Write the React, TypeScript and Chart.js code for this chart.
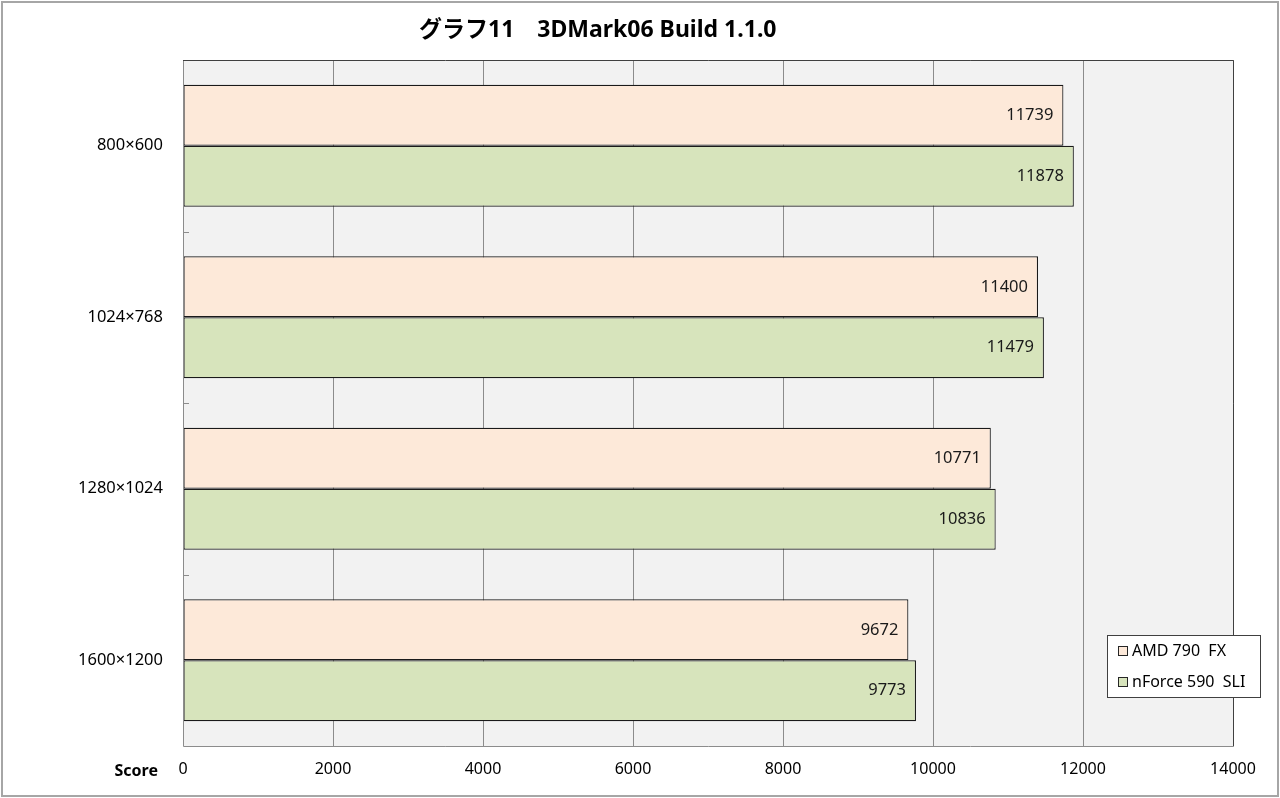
import { useEffect, useRef } from "react";
import { Chart, registerables } from "chart.js";
Chart.register(...registerables);

const categories = ["800×600", "1024×768", "1280×1024", "1600×1200"];
const amdValues = [11739, 11400, 10771, 9672];
const nforceValues = [11878, 11479, 10836, 9773];
const seriesNames = ["AMD 790  FX", "nForce 590  SLI"];
const seriesColors = ["#fde9d9", "#d7e4bc"];
const xMin = 0;
const xMax = 14000;
const xStep = 2000;
const titleText = "グラフ11　3DMark06 Build 1.1.0";
const axisTitle = "Score";

const FONT = "'Noto Sans', 'Noto Sans CJK JP', sans-serif";

const decorPlugin = {
  id: "decor",
  beforeDraw(chart: any) {
    const { ctx, chartArea: a, width, height } = chart;
    ctx.save();
    ctx.fillStyle = "#ffffff";
    ctx.fillRect(0, 0, width, height);
    ctx.strokeStyle = "#a6a6a6";
    ctx.lineWidth = 2;
    ctx.strokeRect(2, 2, width - 4, height - 4);
    ctx.fillStyle = "#f2f2f2";
    ctx.fillRect(a.left, a.top, a.right - a.left, a.bottom - a.top);
    ctx.restore();
  },
  afterDatasetsDraw(chart: any) {
    const { ctx } = chart;
    ctx.save();
    ctx.font = `16.5px ${FONT}`;
    ctx.fillStyle = "#1a1a1a";
    ctx.textAlign = "right";
    ctx.textBaseline = "middle";
    chart.data.datasets.forEach((ds: any, i: number) => {
      const meta = chart.getDatasetMeta(i);
      meta.data.forEach((el: any, j: number) => {
        ctx.fillText(String(ds.data[j]), el.x - 10, el.y);
      });
    });
    ctx.restore();
  },
  afterDraw(chart: any) {
    const { ctx, chartArea: a, width } = chart;
    ctx.save();
    // plot border
    ctx.lineWidth = 1;
    ctx.strokeStyle = "#8c8c8c";
    ctx.beginPath();
    ctx.moveTo(a.left + 0.5, a.top);
    ctx.lineTo(a.left + 0.5, a.bottom + 0.5);
    ctx.lineTo(a.right, a.bottom + 0.5);
    ctx.stroke();
    ctx.strokeStyle = "#404040";
    ctx.beginPath();
    ctx.moveTo(a.left, a.top + 0.5);
    ctx.lineTo(a.right + 0.5, a.top + 0.5);
    ctx.lineTo(a.right + 0.5, a.bottom + 0.5);
    ctx.stroke();
    // category boundary ticks
    const yScale = chart.scales.y;
    const n = chart.data.labels.length;
    const band = (a.bottom - a.top) / n;
    ctx.strokeStyle = "#8c8c8c";
    for (let i = 1; i < n; i++) {
      const y = Math.round(yScale.top + band * i) + 0.5;
      ctx.beginPath();
      ctx.moveTo(a.left, y);
      ctx.lineTo(a.left + 6, y);
      ctx.stroke();
    }
    // title
    ctx.fillStyle = "#000000";
    ctx.font = `bold 23px ${FONT}`;
    ctx.textAlign = "center";
    ctx.textBaseline = "middle";
    ctx.fillText(titleText, width * 0.467, 30);
    // axis title
    ctx.font = `bold 16px ${FONT}`;
    ctx.textAlign = "right";
    ctx.fillText(axisTitle, 158, 771);
    // legend
    const lx = 1107, ly = 635, lw = 153, lh = 62;
    ctx.fillStyle = "#ffffff";
    ctx.fillRect(lx, ly, lw, lh);
    ctx.strokeStyle = "#404040";
    ctx.strokeRect(lx + 0.5, ly + 0.5, lw, lh);
    ctx.font = `16px ${FONT}`;
    ctx.textAlign = "left";
    chart.data.datasets.forEach((ds: any, i: number) => {
      const cy = ly + 16 + i * 31;
      ctx.fillStyle = ds.backgroundColor;
      ctx.fillRect(lx + 11, cy - 5, 10, 10);
      ctx.strokeStyle = "#262626";
      ctx.strokeRect(lx + 11.5, cy - 4.5, 9, 9);
      ctx.fillStyle = "#000000";
      ctx.fillText(ds.label, lx + 25, cy);
    });
    ctx.restore();
  },
};

export default function App() {
  const ref = useRef<HTMLCanvasElement>(null);
  useEffect(() => {
    if (!ref.current) return;
    const chart = new Chart(ref.current, {
      type: "bar",
      data: {
        labels: categories,
        datasets: [
          {
            label: seriesNames[0],
            data: amdValues,
            backgroundColor: seriesColors[0],
            borderColor: "#1a1a1a",
            borderWidth: 1.2,
            borderSkipped: false,
          },
          {
            label: seriesNames[1],
            data: nforceValues,
            backgroundColor: seriesColors[1],
            borderColor: "#1a1a1a",
            borderWidth: 1.2,
            borderSkipped: false,
          },
        ],
      },
      options: {
        indexAxis: "y",
        responsive: false,
        animation: false,
        devicePixelRatio: 1,
        layout: { padding: { left: 0, right: 47, top: 60, bottom: 0 } },
        datasets: { bar: { categoryPercentage: 0.71, barPercentage: 1 } },
        plugins: { legend: { display: false }, title: { display: false }, tooltip: { enabled: false } },
        scales: {
          x: {
            min: xMin,
            max: xMax,
            ticks: {
              stepSize: xStep,
              color: "#000000",
              font: { family: FONT, size: 16 },
              padding: 14,
              callback: (v: any) => String(v),
            },
            grid: { color: "#8c8c8c", lineWidth: 1, drawTicks: false },
            border: { display: false },
            afterFit(scale: any) {
              scale.height = 52;
            },
          },
          y: {
            ticks: {
              color: "#000000",
              font: { family: FONT, size: 16.5 },
              padding: 20,
            },
            grid: { display: false, drawTicks: false },
            border: { display: false },
            afterFit(scale: any) {
              scale.width = 183;
            },
          },
        },
      },
      plugins: [decorPlugin],
    } as any);
    return () => chart.destroy();
  }, []);
  return (
    <div style={{ position: "fixed", left: 0, top: 0, width: 1280, height: 798 }}>
      <canvas ref={ref} width={1280} height={798} style={{ width: 1280, height: 798 }} />
    </div>
  );
}
